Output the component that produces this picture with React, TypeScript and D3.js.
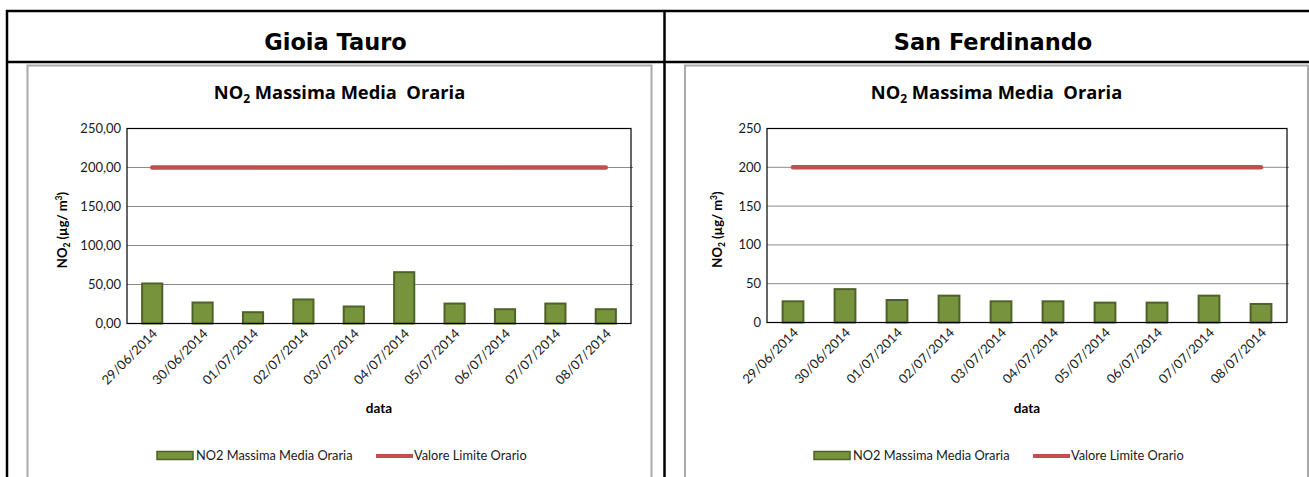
import React from 'react';
import * as d3 from 'd3';

const dates = ['29/06/2014', '30/06/2014', '01/07/2014', '02/07/2014', '03/07/2014', '04/07/2014', '05/07/2014', '06/07/2014', '07/07/2014', '08/07/2014'];
const gioiaValues = [51.3, 26.9, 14.5, 30.8, 21.8, 65.8, 25.6, 18.3, 25.6, 18.3];
const sanFerdValues = [27.3, 43.0, 29.0, 34.6, 27.3, 27.3, 25.6, 25.6, 34.6, 23.9];
const limitValue = 200;
const yTicks = [0, 50, 100, 150, 200, 250];
const stationNames = ['Gioia Tauro', 'San Ferdinando'];
const seriesNames = ['NO2 Massima Media Oraria', 'Valore Limite Orario'];
const xAxisTitle = 'data';

const FONT = 'Lato, "Open Sans", sans-serif';
const TITLE_FONT = '"Open Sans", Lato, sans-serif';
const GREEN = '#77933C';
const GREEN_DARK = '#4F6228';
const RED = '#C0504D';

type ChartProps = {
  frameX0: number;
  frameX1: number;
  plotX0: number;
  plotX1: number;
  plotY0: number;
  plotY1: number;
  values: number[];
  fmt: (v: number) => string;
  yTitleX: number;
};

function Chart({ frameX0, frameX1, plotX0, plotX1, plotY0, plotY1, values, fmt, yTitleX }: ChartProps) {
  const x = d3.scaleBand<string>().domain(dates).range([plotX0, plotX1]).paddingInner(0.6).paddingOuter(0.3);
  const y = d3.scaleLinear().domain([0, 250]).range([plotY1, plotY0]);
  const center = (d: string) => (x(d) as number) + x.bandwidth() / 2;
  const limitLine = d3.line<string>().x((d) => center(d)).y(() => y(limitValue));
  const frameCenter = (frameX0 + frameX1) / 2;
  const lx0 = frameCenter + 3.5 - 186;
  const plotCenter = (plotX0 + plotX1) / 2;
  const plotMid = (plotY0 + plotY1) / 2;
  return (
    <g>
      <rect x={frameX0} y={65.5} width={frameX1 - frameX0} height={430} fill="#fff" stroke="#A9A9A9" strokeWidth={2} />
      <text x={frameCenter} y={99} textAnchor="middle" fontFamily={TITLE_FONT} fontWeight="bold" fontSize={18.3} fill="#000">
        NO<tspan fontSize={12} dy={4}>2</tspan><tspan dy={-4}>{' Massima Media \u00a0Oraria'}</tspan>
      </text>
      {yTicks.map((t) => (
        <g key={t}>
          {t > 0 && t < 250 && (
            <line x1={plotX0} x2={plotX1 + 2} y1={y(t)} y2={y(t)} stroke="#8C8C8C" strokeWidth={1} />
          )}
          <text x={plotX0 - 6} y={y(t)} dy="0.35em" textAnchor="end" fontFamily={FONT} fontSize={13} fill="#1a1a1a">
            {fmt(t)}
          </text>
        </g>
      ))}
      {dates.map((d, i) => (
        <rect
          key={d}
          x={x(d) as number}
          y={y(values[i])}
          width={x.bandwidth()}
          height={plotY1 - y(values[i])}
          fill={GREEN}
          stroke={GREEN_DARK}
          strokeWidth={2}
        />
      ))}
      <rect x={plotX0} y={plotY0} width={plotX1 - plotX0} height={plotY1 - plotY0} fill="none" stroke="#000" strokeWidth={1.2} />
      <path d={limitLine(dates) || ''} fill="none" stroke={RED} strokeWidth={4.5} strokeLinecap="round" />
      {dates.map((d) => (
        <text
          key={d}
          transform={`translate(${center(d) + 6},${plotY1 + 11}) rotate(-45)`}
          textAnchor="end"
          fontFamily={FONT}
          fontSize={13}
          fill="#1a1a1a"
        >
          {d}
        </text>
      ))}
      <text x={plotCenter} y={413} textAnchor="middle" fontFamily={FONT} fontWeight="bold" fontSize={13.5} fill="#000">
        {xAxisTitle}
      </text>
      <text
        transform={`translate(${yTitleX + 4},${plotMid + 4}) rotate(-90)`}
        textAnchor="middle"
        fontFamily={FONT}
        fontWeight="bold"
        fontSize={13}
        fill="#000"
      >
        NO<tspan fontSize={8.5} dy={3}>2</tspan><tspan dy={-3}>{' (\u00b5g/ m'}</tspan><tspan fontSize={8.5} dy={-5}>3</tspan><tspan dy={5}>)</tspan>
      </text>
      <rect x={lx0} y={451.5} width={36} height={8} fill={GREEN} stroke={GREEN_DARK} strokeWidth={1.5} />
      <text x={lx0 + 39} y={455.5} dy="0.35em" fontFamily={FONT} fontSize={12.8} fill="#1a1a1a">
        {seriesNames[0]}
      </text>
      <line x1={lx0 + 219} x2={lx0 + 256} y1={456} y2={456} stroke={RED} strokeWidth={4} />
      <text x={lx0 + 257} y={455.5} dy="0.35em" fontFamily={FONT} fontSize={12.8} fill="#1a1a1a">
        {seriesNames[1]}
      </text>
    </g>
  );
}

export default function App() {
  const fmtDec = (v: number) => d3.format('.2f')(v).replace('.', ',');
  const fmtInt = (v: number) => d3.format('d')(v);
  return (
    <svg width={1309} height={477} style={{ position: 'absolute', left: 0, top: 0, background: '#fff' }}>
      <rect x={0} y={0} width={1309} height={477} fill="#fff" />
      <Chart frameX0={27.5} frameX1={651.5} plotX0={127} plotX1={631} plotY0={128.5} plotY1={323.5} values={gioiaValues} fmt={fmtDec} yTitleX={63} />
      <Chart frameX0={685} frameX1={1308} plotX0={767} plotX1={1287} plotY0={128.5} plotY1={322.5} values={sanFerdValues} fmt={fmtInt} yTitleX={718} />
      <line x1={6} x2={1309} y1={11} y2={11} stroke="#000" strokeWidth={2.5} />
      <line x1={6} x2={1309} y1={62} y2={62} stroke="#000" strokeWidth={2.5} />
      <line x1={7} x2={7} y1={10} y2={477} stroke="#000" strokeWidth={2.5} />
      <line x1={664.5} x2={664.5} y1={10} y2={477} stroke="#000" strokeWidth={2.5} />
      <text x={335.5} y={50} textAnchor="middle" fontFamily='"DejaVu Sans", sans-serif' fontWeight="bold" fontSize={22.5} fill="#000">
        {stationNames[0]}
      </text>
      <text x={993} y={50} textAnchor="middle" fontFamily='"DejaVu Sans", sans-serif' fontWeight="bold" fontSize={22.5} fill="#000">
        {stationNames[1]}
      </text>
    </svg>
  );
}
